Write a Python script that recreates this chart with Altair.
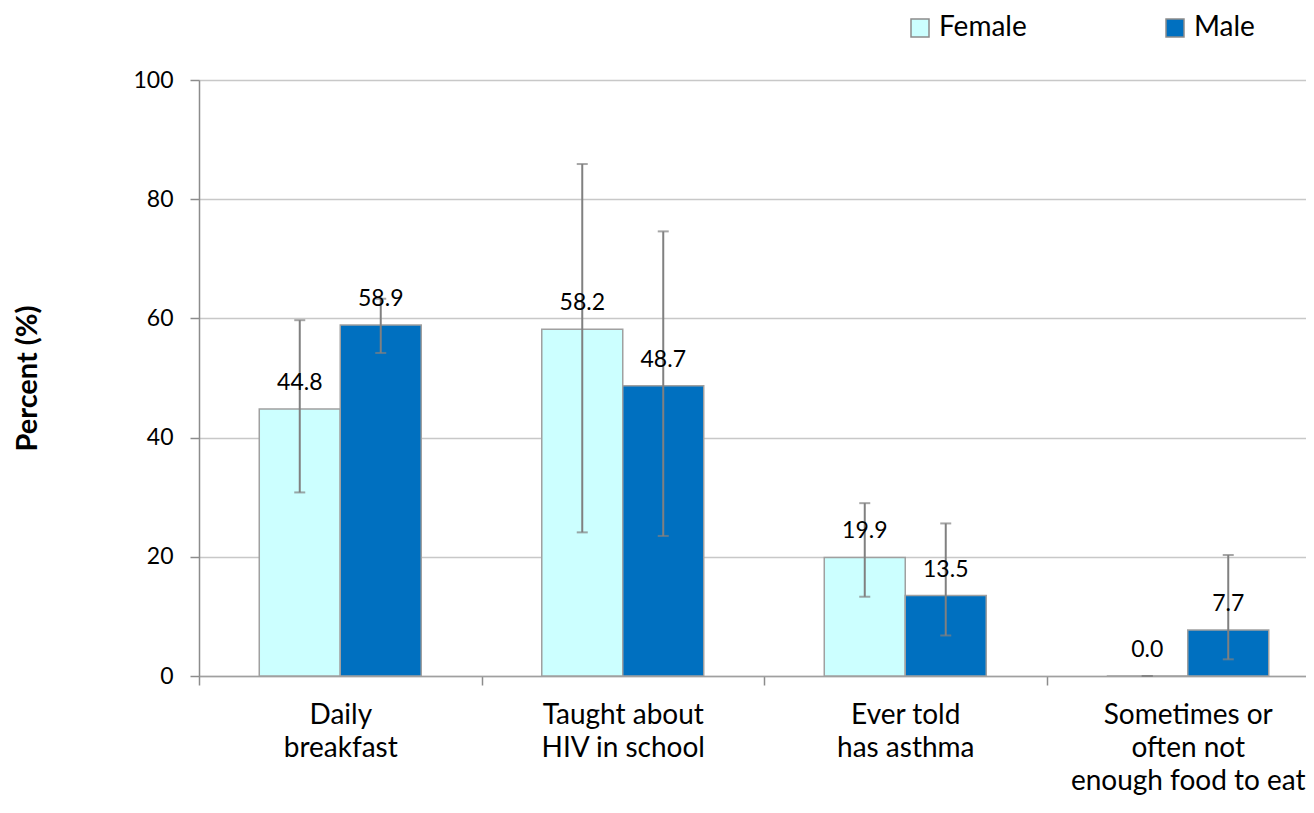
import altair as alt
import pandas as pd

categories = ["Daily|breakfast", "Taught about|HIV in school", "Ever told|has asthma",
              "Sometimes or|often not|enough food to eat"]
sexes = ["Female", "Male"]
female_values = [44.8, 58.2, 19.9, 0.0]
male_values = [58.9, 48.7, 13.5, 7.7]
female_lo = [30.8, 24.1, 13.3, 0.0]
female_hi = [59.7, 85.9, 29.0, 0.0]
male_lo = [54.2, 23.5, 6.8, 2.8]
male_hi = [63.3, 74.6, 25.6, 20.3]
colors = ["#CCFFFF", "#0070C0"]

rows = []
for i, c in enumerate(categories):
    rows.append({"cat": c, "sex": "Female", "v": female_values[i], "lo": female_lo[i], "hi": female_hi[i]})
    rows.append({"cat": c, "sex": "Male", "v": male_values[i], "lo": male_lo[i], "hi": male_hi[i]})
df = pd.DataFrame(rows)

FONT = "Lato"

x = alt.X("cat:N", sort=categories, title=None,
          scale=alt.Scale(range=[0, 1130], paddingInner=0, paddingOuter=0),
          axis=alt.Axis(labelExpr="split(datum.label, '|')", labelAngle=0,
                        labelFontSize=28, labelFont=FONT, labelColor="#000000",
                        labelLineHeight=33, labelPadding=16, labelBaseline="top",
                        labelLimit=0,
                        tickBand="extent", tickSize=9, tickColor="#8C8C8C", tickWidth=1.5,
                        domainColor="#A0A0A0", domainWidth=1.5, grid=False))
xo = alt.XOffset("sex:N", sort=sexes, scale=alt.Scale(paddingInner=0, paddingOuter=0.744))
y_scale = alt.Scale(domain=[0, 100])

base = alt.Chart(df)

bars = base.mark_bar(stroke="#A0A0A0", strokeWidth=1.5).encode(
    x=x, xOffset=xo,
    y=alt.Y("v:Q", scale=y_scale, title="Percent (%)",
            axis=alt.Axis(values=[0, 20, 40, 60, 80, 100], labelFontSize=23, labelFont=FONT,
                          labelColor="#000000", labelPadding=17, tickSize=9,
                          tickColor="#8C8C8C", tickWidth=1.5, domainColor="#8C8C8C",
                          domainWidth=1.5, gridColor="#C8C8C8", gridWidth=1.5,
                          titleFontSize=29, titleFont=FONT, titleFontWeight="bold",
                          titleColor="#000000", titlePadding=90)),
    color=alt.Color("sex:N", sort=sexes, scale=alt.Scale(domain=sexes, range=colors),
                    legend=alt.Legend(title=None, orient="none", direction="horizontal",
                                      legendX=707, legendY=-66, symbolType="square",
                                      symbolSize=324, symbolStrokeColor="#8C8C8C",
                                      symbolStrokeWidth=1.5, labelFontSize=28,
                                      labelFont=FONT, labelColor="#000000", labelOffset=5,
                                      labelLimit=0, columnPadding=134, padding=0)),
)

err = base.mark_rule(color="#808080", strokeWidth=2).encode(
    x=x, xOffset=xo, y=alt.Y("lo:Q", scale=y_scale), y2="hi:Q")
cap_lo = base.mark_tick(color="#808080", thickness=2, size=11).encode(
    x=x, xOffset=xo, y=alt.Y("lo:Q", scale=y_scale))
cap_hi = base.mark_tick(color="#808080", thickness=2, size=11).encode(
    x=x, xOffset=xo, y=alt.Y("hi:Q", scale=y_scale))

labels = base.mark_text(dy=-19, baseline="alphabetic", fontSize=23, font=FONT,
                        color="#000000").encode(
    x=x, xOffset=xo, y=alt.Y("v:Q", scale=y_scale), text=alt.Text("v:Q", format=".1f"))

chart = alt.layer(bars, err, cap_lo, cap_hi, labels).properties(
    width=1107, height=596,
    autosize=alt.AutoSizeParams(type="none"),
    padding={"left": 191, "top": 72, "right": 0, "bottom": 122},
).configure_view(stroke=None).configure(background="#FFFFFF")

chart.save("out.html", embed_options={"renderer": "svg", "actions": False})
